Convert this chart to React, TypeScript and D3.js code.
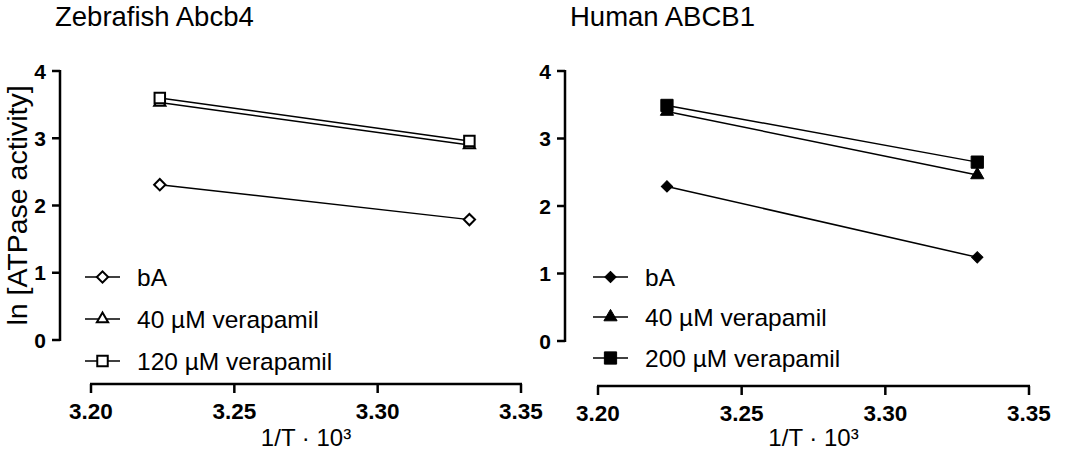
import React from 'react';
import * as d3 from 'd3';

// 1/T · 10^3 for the two temperatures
const invTemp = [3.224, 3.332];

const zebraBA = [2.31, 1.79];
const zebraV40 = [3.53, 2.9];
const zebraV120 = [3.6, 2.96];

const humanBA = [2.29, 1.24];
const humanV40 = [3.4, 2.46];
const humanV200 = [3.49, 2.65];

const xTicks = [3.2, 3.25, 3.3, 3.35];
const yTicks = [0, 1, 2, 3, 4];

const FONT = 'Arial, "Liberation Sans", sans-serif';

type Shape = 'diamond' | 'triangle' | 'square';

interface Series {
  label: string;
  values: number[];
  shape: Shape;
}

interface PanelProps {
  title: string;
  series: Series[];
  filled: boolean;
  xLeft: number;
  xRight: number;
  yAxisX: number;
  yTop: number;
  yBottom: number;
  xAxisY: number;
  titleX: number;
  legendX: number;
  legendY: number[];
  showYLabel: boolean;
}

const symbolPath = (shape: Shape, filled: boolean) => {
  if (shape === 'diamond') return d3.symbol(d3.symbolSquare, 64)()!;
  if (shape === 'triangle') return d3.symbol(d3.symbolTriangle, filled ? 75 : 55)()!;
  return d3.symbol(d3.symbolSquare, filled ? 150 : 110)()!;
};

const Marker: React.FC<{ x: number; y: number; shape: Shape; filled: boolean }> = ({
  x,
  y,
  shape,
  filled,
}) => (
  <path
    d={symbolPath(shape, filled)}
    transform={`translate(${x},${y})${shape === 'diamond' ? ' rotate(45)' : ''}`}
    fill={filled ? '#000' : '#fff'}
    stroke="#000"
    strokeWidth={filled ? 1 : 2}
  />
);

const Panel: React.FC<PanelProps> = (p) => {
  const x = d3.scaleLinear().domain([3.2, 3.35]).range([p.xLeft, p.xRight]);
  const y = d3.scaleLinear().domain([0, 4]).range([p.yBottom, p.yTop]);
  const line = d3
    .line<number>()
    .x((_, i) => x(invTemp[i]))
    .y((d) => y(d));

  return (
    <g>
      <text x={p.titleX} y={26} fontSize={27.5} fontFamily={FONT}>
        {p.title}
      </text>

      {p.showYLabel && (
        <text
          transform={`translate(27,${(p.yTop + p.yBottom) / 2}) rotate(-90)`}
          textAnchor="middle"
          fontSize={28.5}
          fontFamily={FONT}
        >
          ln [ATPase activity]
        </text>
      )}

      {/* y axis */}
      <line x1={p.yAxisX} x2={p.yAxisX} y1={p.yTop - 1} y2={p.yBottom + 1} stroke="#000" strokeWidth={2.5} />
      {yTicks.map((t) => (
        <g key={t}>
          <line x1={p.yAxisX - 8} x2={p.yAxisX} y1={y(t)} y2={y(t)} stroke="#000" strokeWidth={2.5} />
          <text
            x={p.yAxisX - 14}
            y={y(t)}
            dy="0.36em"
            textAnchor="end"
            fontSize={21}
            fontWeight="bold"
            fontFamily={FONT}
          >
            {t}
          </text>
        </g>
      ))}

      {/* x axis */}
      <line x1={p.xLeft - 1} x2={p.xRight + 1} y1={p.xAxisY} y2={p.xAxisY} stroke="#000" strokeWidth={2.5} />
      {xTicks.map((t) => (
        <g key={t}>
          <line x1={x(t)} x2={x(t)} y1={p.xAxisY} y2={p.xAxisY + 9} stroke="#000" strokeWidth={2.5} />
          <text
            x={x(t)}
            y={p.xAxisY + 35}
            textAnchor="middle"
            fontSize={22.5}
            fontWeight="bold"
            fontFamily={FONT}
          >
            {d3.format('.2f')(t)}
          </text>
        </g>
      ))}
      <text x={(p.xLeft + p.xRight) / 2} y={446} textAnchor="middle" fontSize={24} fontFamily={FONT}>
        1/T · 10³
      </text>

      {/* data */}
      {p.series.map((s) => (
        <g key={s.label}>
          <path d={line(s.values)!} fill="none" stroke="#000" strokeWidth={1.5} />
          {s.values.map((v, i) => (
            <Marker key={i} x={x(invTemp[i])} y={y(v)} shape={s.shape} filled={p.filled} />
          ))}
        </g>
      ))}

      {/* legend */}
      {p.series.map((s, i) => (
        <g key={s.label} transform={`translate(${p.legendX},${p.legendY[i]})`}>
          <line x1={0} x2={35} y1={0} y2={0} stroke="#000" strokeWidth={1.5} />
          <Marker x={17.5} y={0} shape={s.shape} filled={p.filled} />
          <text x={52} y={0} dy="0.36em" fontSize={24.5} fontFamily={FONT}>
            {s.label}
          </text>
        </g>
      ))}
    </g>
  );
};

const App: React.FC = () => (
  <svg
    width={1065}
    height={457}
    style={{ position: 'absolute', left: 0, top: 0, background: '#fff' }}
  >
    <Panel
      title="Zebrafish Abcb4"
      series={[
        { label: 'bA', values: zebraBA, shape: 'diamond' },
        { label: '40 µM verapamil', values: zebraV40, shape: 'triangle' },
        { label: '120 µM verapamil', values: zebraV120, shape: 'square' },
      ]}
      filled={false}
      xLeft={91}
      xRight={521}
      yAxisX={60}
      yTop={71}
      yBottom={340}
      xAxisY={384}
      titleX={55}
      legendX={85}
      legendY={[277, 319, 361]}
      showYLabel={true}
    />
    <Panel
      title="Human ABCB1"
      series={[
        { label: 'bA', values: humanBA, shape: 'diamond' },
        { label: '40 µM verapamil', values: humanV40, shape: 'triangle' },
        { label: '200 µM verapamil', values: humanV200, shape: 'square' },
      ]}
      filled={true}
      xLeft={598}
      xRight={1029}
      yAxisX={565}
      yTop={71}
      yBottom={341}
      xAxisY={386}
      titleX={570}
      legendX={593}
      legendY={[277, 317, 358]}
      showYLabel={false}
    />
  </svg>
);

export default App;
